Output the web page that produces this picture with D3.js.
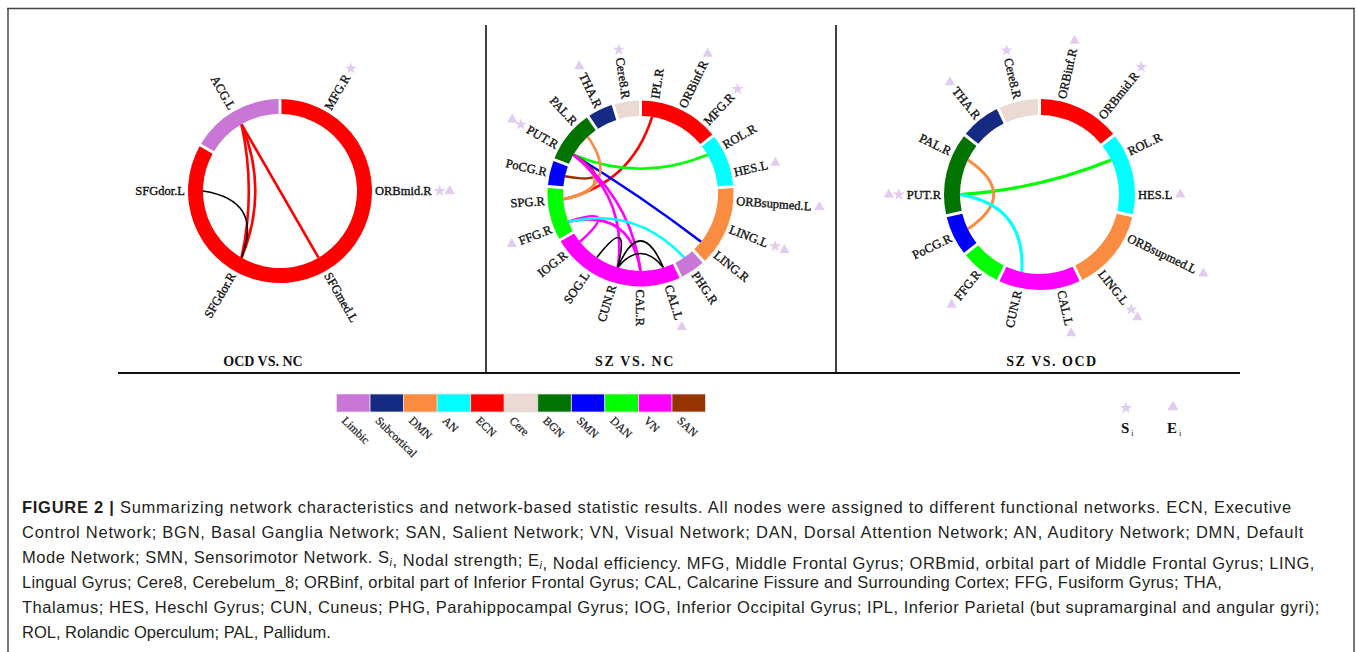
<!DOCTYPE html>
<html>
<head>
<meta charset="utf-8">
<script src="https://cdn.jsdelivr.net/npm/d3@7"></script>
<style>
  body { margin: 0; background: #fff; }
  svg { display: block; }
</style>
</head>
<body>
<script>
// functional networks, in legend order, and their colours
const networks = ["Limbic", "Subcortical", "DMN", "AN", "ECN", "Cere", "BGN", "SMN", "DAN", "VN", "SAN"];
const netColors = ["#c977d6", "#152a82", "#f98c40", "#00ffff", "#ff0000", "#ebd9d3", "#007300", "#0000ff", "#00ff00", "#ff00ff", "#973300"];

// OCD vs NC
const ocdNcNodes = ["MFG.R", "ORBmid.R", "SFGmed.L", "SFGdor.R", "SFGdor.L", "ACG.L"];
const ocdNcNets = ["ECN", "ECN", "ECN", "ECN", "ECN", "Limbic"];
const ocdNcEdges = [["ACG.L", "SFGdor.R", "ECN"], ["ACG.L", "SFGdor.R", "ECN"], ["ACG.L", "SFGmed.L", "ECN"], ["SFGdor.L", "SFGdor.R", "none"]];
const ocdNcS = ["MFG.R", "ORBmid.R"];
const ocdNcE = ["ORBmid.R"];

// SZ vs NC
const szNcNodes = ["IPL.R", "ORBinf.R", "MFG.R", "ROL.R", "HES.L", "ORBsupmed.L", "LING.L", "LING.R", "PHG.R", "CAL.L", "CAL.R", "CUN.R", "SOG.L", "IOG.R", "FFG.R", "SPG.R", "PoCG.R", "PUT.R", "PAL.R", "THA.R", "Cere8.R"];
const szNcNets = ["ECN", "ECN", "ECN", "AN", "AN", "DMN", "DMN", "DMN", "Limbic", "VN", "VN", "VN", "VN", "VN", "DAN", "DAN", "SMN", "BGN", "BGN", "Subcortical", "Cere"];
const szNcEdges = [
  ["IPL.R", "SPG.R", "ECN"], ["PUT.R", "ROL.R", "DAN"], ["PUT.R", "LING.R", "SMN"], ["PUT.R", "PoCG.R", "SAN"],
  ["PAL.R", "SPG.R", "DMN"], ["PUT.R", "SPG.R", "DMN"], ["PUT.R", "CUN.R", "VN"], ["PUT.R", "CAL.R", "VN"],
  ["FFG.R", "IOG.R", "VN"], ["FFG.R", "CAL.R", "VN"], ["FFG.R", "PHG.R", "AN"],
  ["SOG.L", "CUN.R", "none"], ["CUN.R", "CAL.L", "none"], ["CUN.R", "CAL.L", "none"]
];
const szNcS = ["Cere8.R", "MFG.R", "LING.L", "PUT.R"];
const szNcE = ["THA.R", "ORBinf.R", "HES.L", "ORBsupmed.L", "LING.L", "CAL.L", "FFG.R", "PUT.R"];

// SZ vs OCD
const szOcdNodes = ["ORBinf.R", "ORBmid.R", "ROL.R", "HES.L", "ORBsupmed.L", "LING.L", "CAL.L", "CUN.R", "FFG.R", "PoCG.R", "PUT.R", "PAL.R", "THA.R", "Cere8.R"];
const szOcdNets = ["ECN", "ECN", "AN", "AN", "DMN", "DMN", "VN", "VN", "DAN", "SMN", "BGN", "BGN", "Subcortical", "Cere"];
const szOcdEdges = [["PUT.R", "ROL.R", "DAN"], ["PAL.R", "PoCG.R", "DMN"], ["PUT.R", "CUN.R", "AN"]];
const szOcdS = ["Cere8.R", "ORBmid.R", "LING.L", "PUT.R"];
const szOcdE = ["THA.R", "ORBinf.R", "HES.L", "ORBsupmed.L", "LING.L", "CAL.L", "FFG.R", "PUT.R"];

const captionLines = [
  "Summarizing network characteristics and network-based statistic results. All nodes were assigned to different functional networks. ECN, Executive",
  "Control Network; BGN, Basal Ganglia Network; SAN, Salient Network; VN, Visual Network; DAN, Dorsal Attention Network; AN, Auditory Network; DMN, Default",
  "Mode Network; SMN, Sensorimotor Network. S|i|, Nodal strength; E|i|, Nodal efficiency. MFG, Middle Frontal Gyrus; ORBmid, orbital part of Middle Frontal Gyrus; LING,",
  "Lingual Gyrus; Cere8, Cerebelum_8; ORBinf, orbital part of Inferior Frontal Gyrus; CAL, Calcarine Fissure and Surrounding Cortex; FFG, Fusiform Gyrus; THA,",
  "Thalamus; HES, Heschl Gyrus; CUN, Cuneus; PHG, Parahippocampal Gyrus; IOG, Inferior Occipital Gyrus; IPL, Inferior Parietal (but supramarginal and angular gyri);",
  "ROL, Rolandic Operculum; PAL, Pallidum."
];
// right end of each caption line (the last one keeps its natural width)
const captionEnds = [1292, 1304, 1315, 1222, 1320, null];

const w = 1358, h = 652;
const serif = "'Liberation Serif', 'DejaVu Serif', serif";
const markColor = "#e3cbf0";

const svg = d3.select('body').append('svg')
  .attr('width', w)
  .attr('height', h);

const color = d3.scaleOrdinal().domain(networks).range(netColors).unknown('#000');

// frame
svg.append('line').attr('x1', 8).attr('x2', 8).attr('y1', 8).attr('y2', h).attr('stroke', '#777').attr('stroke-width', 2);
svg.append('line').attr('x1', 1354).attr('x2', 1354).attr('y1', 8).attr('y2', h).attr('stroke', '#777').attr('stroke-width', 2);
svg.append('line').attr('x1', 7).attr('x2', 1355).attr('y1', 8.5).attr('y2', 8.5).attr('stroke', '#444').attr('stroke-width', 1.5);

// panel separators
svg.append('line').attr('x1', 486).attr('x2', 486).attr('y1', 25).attr('y2', 373).attr('stroke', '#111').attr('stroke-width', 1.6);
svg.append('line').attr('x1', 836).attr('x2', 836).attr('y1', 25).attr('y2', 373).attr('stroke', '#111').attr('stroke-width', 1.6);
svg.append('line').attr('x1', 118).attr('x2', 1240).attr('y1', 373).attr('y2', 373).attr('stroke', '#111').attr('stroke-width', 2);

function chordPanel(nodes, nets, edges, sNodes, eNodes, opt) {
  const g = svg.append('g').attr('transform', `translate(${opt.cx},${opt.cy})`);
  const angle = d3.scaleBand().domain(nodes).range([0, 2 * Math.PI]);
  const bw = angle.bandwidth();
  const mid = (n) => angle(n) + bw / 2;
  const ri = opt.r - opt.thick;

  // runs of nodes in the same network make one ring segment
  const groups = [];
  nodes.forEach((n, i) => {
    const last = groups[groups.length - 1];
    if (last && last.net === nets[i]) last.endAngle = angle(n) + bw;
    else groups.push({ net: nets[i], startAngle: angle(n), endAngle: angle(n) + bw, padAngle: 0.024 });
  });

  // links
  const pt = (n) => [ri * Math.sin(mid(n)), -ri * Math.cos(mid(n))];
  const seen = {};
  edges.forEach(([s, t, net]) => {
    const key = s + '|' + t;
    const k = seen[key] ? 0.62 : 0.28;
    seen[key] = true;
    const p0 = pt(s), p1 = pt(t);
    const p = d3.path();
    p.moveTo(p0[0], p0[1]);
    p.quadraticCurveTo(k * (p0[0] + p1[0]) / 2, k * (p0[1] + p1[1]) / 2, p1[0], p1[1]);
    g.append('path')
      .attr('d', p.toString())
      .attr('fill', 'none')
      .attr('stroke', color(net))
      .attr('stroke-width', net === 'none' ? 1.6 : opt.lw);
  });

  const arc = d3.arc().innerRadius(ri).outerRadius(opt.r);
  g.selectAll('path.grp')
    .data(groups)
    .enter()
    .append('path')
    .attr('class', 'grp')
    .attr('d', arc)
    .attr('fill', (d) => color(d.net));

  // labels
  const flip = (n) => mid(n) > Math.PI + 1e-6;
  const lab = g.selectAll('g.lab')
    .data(nodes)
    .enter()
    .append('g')
    .attr('class', 'lab')
    .attr('transform', (n) => `rotate(${mid(n) * 180 / Math.PI - 90}) translate(${opt.r + 3},0)`);
  lab.append('text')
    .attr('dy', '0.35em')
    .attr('transform', (n) => flip(n) ? 'rotate(180)' : null)
    .attr('text-anchor', (n) => flip(n) ? 'end' : 'start')
    .style('font-family', serif)
    .style('font-size', '12.5px')
    .attr('fill', '#111')
    .attr('stroke', '#111')
    .attr('stroke-width', 0.35)
    .text((n) => n);

  // S_i / E_i markers beyond the labels
  lab.each(function (n) {
    const len = d3.select(this).select('text').node().getComputedTextLength();
    const marks = [];
    if (sNodes.includes(n)) marks.push(d3.symbolStar);
    if (eNodes.includes(n)) marks.push(d3.symbolTriangle);
    marks.forEach((sym, i) => {
      const rr = opt.r + 3 + len + 8 + i * 10;
      g.append('path')
        .attr('d', d3.symbol().type(sym).size(46)())
        .attr('transform', `translate(${rr * Math.sin(mid(n))},${-rr * Math.cos(mid(n))})`)
        .attr('fill', markColor);
    });
  });

  svg.append('text')
    .attr('x', opt.tx)
    .attr('y', 366)
    .attr('text-anchor', 'middle')
    .style('font-family', serif)
    .style('font-weight', 'bold')
    .style('font-size', '14px')
    .style('letter-spacing', opt.ls + 'px')
    .attr('fill', '#111')
    .text(opt.title);
}

chordPanel(ocdNcNodes, ocdNcNets, ocdNcEdges, ocdNcS, ocdNcE,
  { cx: 280, cy: 191, r: 92, thick: 15, lw: 2.6, title: "OCD VS. NC", tx: 263, ls: 0 });
chordPanel(szNcNodes, szNcNets, szNcEdges, szNcS, szNcE,
  { cx: 640.5, cy: 193.5, r: 93, thick: 15.5, lw: 2.6, title: "SZ VS. NC", tx: 635, ls: 1.6 });
chordPanel(szOcdNodes, szOcdNets, szOcdEdges, szOcdS, szOcdE,
  { cx: 1039.5, cy: 194.5, r: 95.5, thick: 16, lw: 3, title: "SZ VS. OCD", tx: 1052, ls: 1.5 });

// network legend
const legX = d3.scaleBand().domain(networks).range([336.5, 705.5]);
const leg = svg.append('g').attr('id', 'legend');
leg.selectAll('rect')
  .data(networks)
  .enter()
  .append('rect')
  .attr('x', (d) => legX(d))
  .attr('y', 394)
  .attr('width', legX.bandwidth())
  .attr('height', 18)
  .attr('fill', (d) => color(d))
  .attr('stroke', '#e6dede')
  .attr('stroke-width', 0.8);
leg.selectAll('text')
  .data(networks)
  .enter()
  .append('text')
  .attr('transform', (d) => `translate(${legX(d) + 7},${419}) rotate(44)`)
  .attr('dy', '0.3em')
  .style('font-family', serif)
  .style('font-size', '11.5px')
  .attr('fill', '#222')
  .attr('stroke', '#222')
  .attr('stroke-width', 0.25)
  .text((d) => d);

// S_i / E_i legend
svg.append('path').attr('d', d3.symbol().type(d3.symbolStar).size(52)()).attr('transform', 'translate(1126,408)').attr('fill', markColor);
svg.append('path').attr('d', d3.symbol().type(d3.symbolTriangle).size(56)()).attr('transform', 'translate(1173,407)').attr('fill', markColor);
[["S", 1121], ["E", 1167]].forEach(([t, x]) => {
  const tx = svg.append('text').attr('x', x).attr('y', 433)
    .style('font-family', serif).style('font-size', '15px').attr('fill', '#111');
  tx.append('tspan').style('font-weight', 'bold').text(t);
  tx.append('tspan').attr('dx', 2).attr('dy', 3).style('font-size', '8px').text('i');
});

// caption
const cap = svg.append('text')
  .style('font-family', "'Liberation Sans', Arial, sans-serif")
  .style('font-size', '16.5px')
  .attr('fill', '#231f20');
captionLines.forEach((line, i) => {
  const t = cap.append('tspan').attr('x', 22).attr('y', 513 + i * 25);
  let full = line.replace(/\|/g, '');
  if (i === 0) {
    t.append('tspan').style('font-weight', 'bold').text('FIGURE 2 | ');
    full = 'FIGURE 2 | ' + full;
  }
  line.split('|').forEach((part, j) => {
    if (j % 2 === 1) {
      t.append('tspan').attr('dy', 3).style('font-size', '11px').style('font-style', 'italic').text(part);
      t.append('tspan').attr('dy', -3).text('');
    } else {
      t.append('tspan').text(part);
    }
  });
  // widen the letter spacing so the line ends where it does in the figure
  if (captionEnds[i]) {
    const natural = t.node().getComputedTextLength();
    t.style('letter-spacing', ((captionEnds[i] - 22 - natural) / full.length) + 'px');
  }
});
</script>
</body>
</html>
